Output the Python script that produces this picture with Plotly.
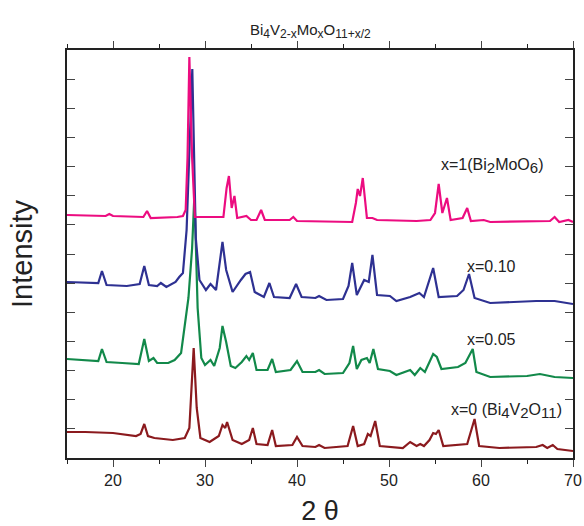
import plotly.graph_objects as go

# XRD patterns: 2theta (deg) and intensity (a.u., stacked as plotted)
tt_x0 = [15.0, 17.0, 20.0, 22.5, 23.0, 23.4, 23.8, 24.5, 26.5, 27.8, 28.3, 28.5, 28.77, 29.1, 29.5, 30.5,
         31.5, 31.9, 32.2, 32.4, 33.0, 34.0, 34.8, 35.2, 35.6, 36.8, 37.3, 37.7, 39.5, 40.0, 40.6, 42.0,
         42.4, 43.0, 45.5, 46.1, 46.6, 47.3, 47.7, 48.0, 48.5, 49.0, 51.5, 52.3, 53.0, 53.4, 53.8, 54.4,
         54.8, 55.1, 55.4, 55.9, 58.5, 59.3, 59.8, 62.0, 66.0, 66.7, 67.2, 67.8, 68.3, 70.0]
int_x0 = [26, 26, 25, 22, 24, 34, 22, 20, 18, 20, 30, 60, 110, 50, 20, 16,
          22, 33, 30, 36, 18, 14, 18, 30, 14, 13, 28, 12, 13, 21, 12, 11,
          13, 10, 12, 32, 12, 14, 24, 22, 37, 12, 10, 16, 12, 14, 12, 18,
          25, 24, 28, 12, 14, 39, 12, 10, 11, 13, 10, 13, 9, 7]

tt_x005 = [15.0, 17.5, 18.4, 18.8, 19.3, 21.0, 22.8, 23.4, 23.9, 24.4, 24.8, 26.0, 26.7, 27.4, 27.9, 28.2,
           28.6, 28.85, 29.2, 29.6, 30.0, 30.6, 31.0, 31.6, 31.9, 32.3, 32.8, 33.3, 34.0, 34.5, 34.8, 35.2,
           35.6, 36.8, 37.3, 37.7, 39.3, 40.0, 40.6, 42.0, 42.4, 43.0, 45.0, 45.7, 46.1, 46.5, 47.0, 47.6,
           47.9, 48.3, 48.8, 50.1, 50.8, 52.3, 52.8, 53.4, 53.9, 54.8, 55.2, 55.7, 57.5, 58.3, 59.1, 59.5,
           61.0, 65.0, 66.4, 68.0, 70.0]
int_x005 = [99, 98, 97, 109, 96, 95, 94, 119, 97, 100, 95, 95, 98, 105, 141, 160,
            210, 263, 150, 100, 93, 98, 92, 110, 132, 116, 92, 90, 96, 102, 98, 105,
            88, 88, 99, 86, 88, 97, 86, 86, 88, 84, 85, 95, 112, 89, 98, 100,
            95, 109, 89, 87, 83, 88, 83, 90, 86, 104, 101, 89, 91, 95, 109, 86,
            81, 82, 84, 81, 80]

tt_x010 = [15.0, 18.0, 18.4, 18.8, 19.3, 21.5, 22.9, 23.4, 23.9, 24.8, 25.2, 25.8, 26.8, 27.2, 27.6, 28.0,
           28.3, 28.62, 29.0, 29.4, 30.1, 30.6, 31.2, 31.9, 32.3, 33.0, 33.9, 34.4, 34.9, 35.4, 36.4, 37.0,
           37.5, 39.2, 39.9, 40.5, 42.0, 42.4, 43.2, 45.0, 45.6, 46.0, 46.5, 47.3, 47.8, 48.2, 48.7, 50.1,
           50.8, 52.3, 53.3, 53.8, 54.8, 55.4, 57.4, 58.1, 58.7, 59.3, 61.0, 66.0, 68.0, 70.0]
int_x010 = [176, 175, 175, 187, 173, 172, 174, 192, 173, 172, 175, 171, 176, 181, 185, 228,
            300, 389, 220, 178, 168, 174, 168, 216, 188, 166, 178, 184, 186, 166, 161, 175,
            161, 160, 174, 161, 160, 162, 158, 159, 172, 195, 163, 178, 176, 203, 163, 162,
            157, 161, 165, 161, 190, 161, 162, 168, 184, 160, 155, 157, 157, 154]

tt_x1 = [15.0, 19.2, 19.6, 20.0, 23.3, 23.7, 24.1, 27.0, 27.6, 27.9, 28.1, 28.3, 28.6, 28.9, 32.0, 32.35,
         32.6, 32.9, 33.2, 33.5, 34.5, 35.0, 35.6, 36.1, 36.5, 39.2, 39.6, 40.0, 46.0, 46.4, 46.6, 46.85,
         47.15, 47.6, 48.2, 48.7, 53.0, 54.5, 55.0, 55.4, 55.8, 56.3, 56.7, 58.0, 58.5, 58.9, 60.3, 61.0,
         67.5, 68.0, 68.5, 69.5, 70.0]
int_x1 = [243, 242, 244, 242, 241, 247, 240, 241, 242, 248, 300, 401, 300, 241, 241, 270,
          282, 250, 262, 240, 242, 238, 238, 248, 238, 238, 241, 237, 236, 255, 269, 262,
          280, 240, 240, 238, 237, 238, 245, 274, 245, 260, 238, 240, 250, 237, 238, 236,
          237, 241, 236, 238, 236]

series = [
    ("x=0", tt_x0, int_x0, "#8B1A1E"),
    ("x=0.05", tt_x005, int_x005, "#12894A"),
    ("x=0.10", tt_x010, int_x010, "#2E3192"),
    ("x=1", tt_x1, int_x1, "#EC0C80"),
]

x_ticks = [20, 30, 40, 50, 60, 70]
x_range = [15, 70]
y_range = [0, 408]

fig = go.Figure()
for name, xs, ys, col in series:
    fig.add_trace(go.Scatter(x=xs, y=ys, mode="lines", name=name,
                             line=dict(color=col, width=2.2), showlegend=False))

FONT = "Arial, Liberation Sans, sans-serif"
fig.update_layout(
    width=584, height=526,
    margin=dict(l=67, r=11, t=50, b=68),
    paper_bgcolor="white", plot_bgcolor="white",
    font=dict(family=FONT, color="#222"),
    xaxis=dict(range=x_range, tickvals=x_ticks, ticks="outside", ticklen=7, tickwidth=1.2,
               showline=True, linecolor="#222", linewidth=1.5, mirror="ticks", showgrid=False,
               zeroline=False, tickfont=dict(size=16, color="#222"), automargin=False,
               minor=dict(dtick=5, tick0=15, ticks="outside", ticklen=4, tickwidth=1, tickcolor="#222"),
               title=dict(text="2 θ", font=dict(size=27, color="#222"), standoff=15)),
    yaxis=dict(range=y_range, tick0=0, dtick=408 / 14, ticks="inside", ticklen=8, tickwidth=1.2,
               showticklabels=False, showline=True, linecolor="#222", linewidth=1.5, mirror="ticks",
               showgrid=False, zeroline=False, automargin=False,
               title=dict(text="Intensity", font=dict(size=29, color="#222"), standoff=24)),
)

# convert pixel positions for annotations to paper coords
def px(xp):
    return (xp - 67) / 506

def py(yp):
    return (458 - yp) / 408

def sub(s, size):
    return "<sub><span style='font-size:%dpx'>%s</span></sub>" % (size, s)

labels = [
    ("Bi" + sub("4", 12) + "V" + sub("2-x", 12) + "Mo" + sub("x", 12) + "O" + sub("11+x/2", 12), 310, 31, 15),
    ("x=1(Bi" + sub("2", 15) + "MoO" + sub("6", 15) + ")", 492, 166, 16),
    ("x=0.10", 491, 266, 16),
    ("x=0.05", 491, 340, 16),
    ("x=0 (Bi" + sub("4", 15) + "V" + sub("2", 15) + "O" + sub("11", 15) + ")", 506, 411, 16),
]
for t, xp, yp, fs in labels:
    fig.add_annotation(text=t, x=px(xp), y=py(yp), xref="paper", yref="paper", showarrow=False,
                       xanchor="center", yanchor="middle", font=dict(size=fs, color="#222"))

fig.write_html("out.html", config={"displayModeBar": False},
               post_script="document.body.style.margin='0';document.body.style.overflow='hidden';")
